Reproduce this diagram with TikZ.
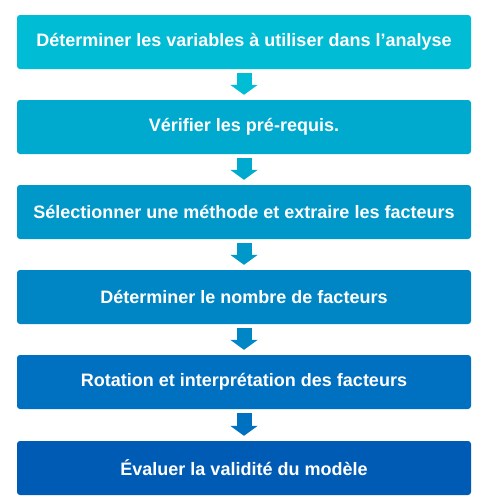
\documentclass[tikz,border=0pt]{standalone}
\usepackage{fontspec}
\setmainfont{Liberation Sans}
\usepackage{xcolor}
\usepackage{tikz}
\usetikzlibrary{arrows.meta, positioning}

\definecolor{etapeA}{RGB}{0,188,212}
\definecolor{etapeB}{RGB}{0,170,206}
\definecolor{etapeC}{RGB}{0,152,201}
\definecolor{etapeD}{RGB}{0,134,196}
\definecolor{etapeE}{RGB}{0,112,192}
\definecolor{etapeF}{RGB}{0,91,181}

\begin{document}
\begin{tikzpicture}[
	x=1pt, y=-1pt,
	etape/.style={
		rectangle,
		rounded corners=3pt,
		minimum width=454pt,
		minimum height=54pt,
		text=white,
		font=\bfseries\fontsize{18}{21}\selectfont
	},
	fleche/.style={
		line width=15pt,
		shorten <=4pt,
		shorten >=5pt,
		-{Triangle[width=27pt,length=10pt]}
	}
]
	% Cadre
	\useasboundingbox (0,0) rectangle (486,504);
	% Etapes
	\node[
		etape,
		fill=etapeA
	] (variables) at (244,42) {Déterminer les variables à utiliser dans l’analyse};
	\node[
		etape,
		fill=etapeB
	] (prerequis) at (244,127) {Vérifier les pré-requis.};
	\node[
		etape,
		fill=etapeC
	] (methode) at (244,212) {Sélectionner une méthode et extraire les facteurs};
	\node[
		etape,
		fill=etapeD
	] (nombre) at (244,297) {Déterminer le nombre de facteurs};
	\node[
		etape,
		fill=etapeE
	] (rotation) at (244,382) {Rotation et interprétation des facteurs};
	\node[
		etape,
		fill=etapeF
	] (validite) at (244,468) {Évaluer la validité du modèle};
	% Fleches
	\draw[fleche, color=etapeA] (variables) -- (prerequis);
	\draw[fleche, color=etapeB] (prerequis) -- (methode);
	\draw[fleche, color=etapeC] (methode) -- (nombre);
	\draw[fleche, color=etapeD] (nombre) -- (rotation);
	\draw[fleche, color=etapeE] (rotation) -- (validite);

\end{tikzpicture}
\end{document}
